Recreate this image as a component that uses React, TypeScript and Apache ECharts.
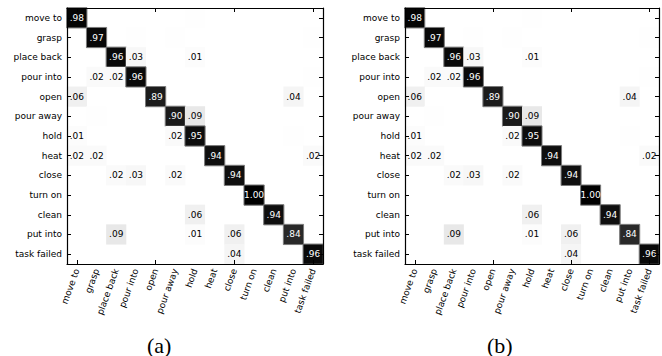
import React, { useEffect, useRef } from "react";
import * as echarts from "echarts";

const categories = [
  "move to", "grasp", "place back", "pour into", "open", "pour away", "hold",
  "heat", "close", "turn on", "clean", "put into", "task failed",
];

// [predicted column, true row, value]
const cellsA: [number, number, number][] = [
  [0, 0, 0.98], [6, 0, 0.004],
  [1, 1, 0.97], [3, 1, 0.003], [5, 1, 0.003], [12, 1, 0.003],
  [2, 2, 0.96], [3, 2, 0.03], [6, 2, 0.01],
  [1, 3, 0.02], [2, 3, 0.02], [3, 3, 0.96], [12, 3, 0.003],
  [0, 4, 0.06], [4, 4, 0.89], [11, 4, 0.04],
  [1, 5, 0.003], [5, 5, 0.90], [6, 5, 0.09],
  [0, 6, 0.01], [5, 6, 0.02], [6, 6, 0.95], [11, 6, 0.003],
  [0, 7, 0.02], [1, 7, 0.02], [7, 7, 0.94], [12, 7, 0.02],
  [2, 8, 0.02], [3, 8, 0.03], [5, 8, 0.02], [8, 8, 0.94],
  [9, 9, 1.0],
  [6, 10, 0.06], [10, 10, 0.94],
  [2, 11, 0.09], [6, 11, 0.01], [8, 11, 0.06], [11, 11, 0.84],
  [8, 12, 0.04], [12, 12, 0.96],
];
const cellsB = cellsA;
const captions = ["(a)", "(b)"];

const FONT = "DejaVu Sans";

const GRIDS = [
  { left: 67, top: 8, width: 256, height: 256 },
  { left: 405, top: 8, width: 254, height: 256 },
];

function fmt(v: number) {
  if (v < 0.005) return "";
  if (v >= 0.995) return "1.00";
  return "." + String(Math.round(v * 100)).padStart(2, "0");
}

function makeData(cells: [number, number, number][]) {
  return cells.map(([x, y, v]) => ({
    value: [x, y, v],
    itemStyle: {
      borderColor: "#7a7a7a",
      borderWidth: v > 0.5 ? 1 : 0,
    },
    label: { color: v > 0.5 ? "#ffffff" : "#000000" },
  }));
}

export default function App() {
  const ref = useRef<HTMLDivElement>(null);
  const frameRef = useRef<HTMLDivElement>(null);
  useEffect(() => {
    if (!ref.current || !frameRef.current) return;
    const chart = echarts.init(ref.current, null, { renderer: "svg" });
    const xAxis: any[] = [];
    const yAxis: any[] = [];
    GRIDS.forEach((_, i) => {
      xAxis.push({
        type: "category", gridIndex: i, data: categories,
        axisLine: { show: false }, axisTick: { show: false },
        axisLabel: { rotate: 70, fontFamily: FONT, fontSize: 9, color: "#000", margin: 5, interval: 0 },
      });
      yAxis.push({
        type: "category", gridIndex: i, data: categories, inverse: true,
        axisLine: { show: false }, axisTick: { show: false },
        axisLabel: { fontFamily: FONT, fontSize: 9, color: "#000", margin: 5, interval: 0 },
      });
    });
    const series = [cellsA, cellsB].map((cells, i) => ({
      type: "heatmap",
      xAxisIndex: i,
      yAxisIndex: i,
      data: makeData(cells),
      label: {
        show: true,
        fontFamily: FONT,
        fontSize: 9,
        formatter: (p: any) => fmt(p.value[2]),
      },
      emphasis: { disabled: true },
    }));
    chart.setOption({
      animation: false,
      grid: GRIDS,
      xAxis,
      yAxis,
      visualMap: {
        show: false,
        type: "continuous",
        min: 0,
        max: 1,
        dimension: 2,
        seriesIndex: [0, 1],
        inRange: { color: ["#ffffff", "#000000"] },
      },
      series,
      graphic: captions.map((t, i) => ({
        type: "text",
        left: i === 0 ? 147 : 487,
        top: 334,
        style: { text: t, font: "22px 'Liberation Serif'", fill: "#000" },
      })),
    });

    // Overlay chart: frame and inward ticks on all four sides.
    const frame = echarts.init(frameRef.current, null, { renderer: "svg" });
    const fx: any[] = [];
    const fy: any[] = [];
    const line = () => ({ show: true, onZero: false, lineStyle: { color: "#000000", width: 1.2 } });
    const tick = () => ({ show: true, inside: true, length: 4, alignWithLabel: true, lineStyle: { color: "#000000", width: 1 } });
    GRIDS.forEach((_, i) => {
      ["bottom", "top"].forEach((pos) =>
        fx.push({
          type: "category", gridIndex: i, data: categories, position: pos,
          axisLine: line(), axisTick: tick(), axisLabel: { show: false }, splitLine: { show: false },
        })
      );
      ["left", "right"].forEach((pos) =>
        fy.push({
          type: "category", gridIndex: i, data: categories, position: pos, inverse: true,
          axisLine: line(), axisTick: tick(), axisLabel: { show: false }, splitLine: { show: false },
        })
      );
    });
    frame.setOption({
      animation: false,
      grid: GRIDS,
      xAxis: fx,
      yAxis: fy,
      series: GRIDS.map((_, i) => ({
        type: "scatter", xAxisIndex: i * 2, yAxisIndex: i * 2, data: [], silent: true,
      })),
    });
    return () => {
      chart.dispose();
      frame.dispose();
    };
  }, []);
  return (
    <div style={{ position: "absolute", left: 0, top: 0, width: 662, height: 356 }}>
      <div ref={ref} style={{ position: "absolute", left: 0, top: 0, width: 662, height: 356 }} />
      <div
        ref={frameRef}
        style={{ position: "absolute", left: 0, top: 0, width: 662, height: 356, pointerEvents: "none" }}
      />
    </div>
  );
}
